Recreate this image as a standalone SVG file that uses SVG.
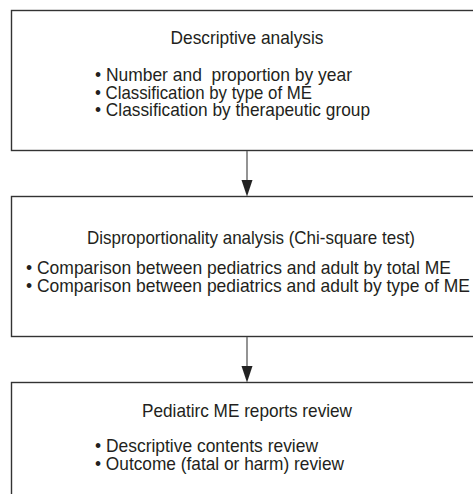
<svg xmlns="http://www.w3.org/2000/svg" width="473" height="494" viewBox="0 0 473 494">
<style>
.box{fill:#fff;stroke:#333;stroke-width:1.4}
.t{font-family:"Liberation Sans",Arial,sans-serif;font-size:18.5px;fill:#231f20;white-space:pre}
.c{text-anchor:middle}
.ln{stroke:#666;stroke-width:1.4;fill:none}
.ah{fill:#222}
</style>
<rect width="473" height="494" fill="#fff"/>
<g id="node-descriptive">
<rect class="box" x="11.5" y="10.5" width="470" height="140"/>
<text class="t c" x="247" y="44" textLength="153" lengthAdjust="spacingAndGlyphs">Descriptive analysis</text>
<text class="t" x="95" y="81" xml:space="preserve" textLength="257" lengthAdjust="spacingAndGlyphs">• Number and  proportion by year</text>
<text class="t" x="95" y="98.5" textLength="217" lengthAdjust="spacingAndGlyphs">• Classification by type of ME</text>
<text class="t" x="95" y="116" textLength="275" lengthAdjust="spacingAndGlyphs">• Classification by therapeutic group</text>
</g>
<g id="node-disproportionality">
<rect class="box" x="11.5" y="196.5" width="470" height="140"/>
<text class="t c" x="251" y="243.5" textLength="328" lengthAdjust="spacingAndGlyphs">Disproportionality analysis (Chi-square test)</text>
<text class="t" x="26" y="273.5" textLength="425" lengthAdjust="spacingAndGlyphs">• Comparison between pediatrics and adult by total ME</text>
<text class="t" x="26" y="291.5" textLength="444" lengthAdjust="spacingAndGlyphs">• Comparison between pediatrics and adult by type of ME</text>
</g>
<g id="node-review">
<rect class="box" x="11.5" y="382.5" width="470" height="130"/>
<text class="t c" x="247" y="416.5" textLength="210" lengthAdjust="spacingAndGlyphs">Pediatirc ME reports review</text>
<text class="t" x="95" y="452" textLength="223" lengthAdjust="spacingAndGlyphs">• Descriptive contents review</text>
<text class="t" x="95" y="470" textLength="249" lengthAdjust="spacingAndGlyphs">• Outcome (fatal or harm) review</text>
</g>
<g id="connectors">
<line class="ln" x1="247" y1="151" x2="247" y2="182"/>
<polygon class="ah" points="241.5,180 252.5,180 247,196.5"/>
<line class="ln" x1="247" y1="337" x2="247" y2="368"/>
<polygon class="ah" points="241.5,366 252.5,366 247,382.5"/>
</g>
</svg>
